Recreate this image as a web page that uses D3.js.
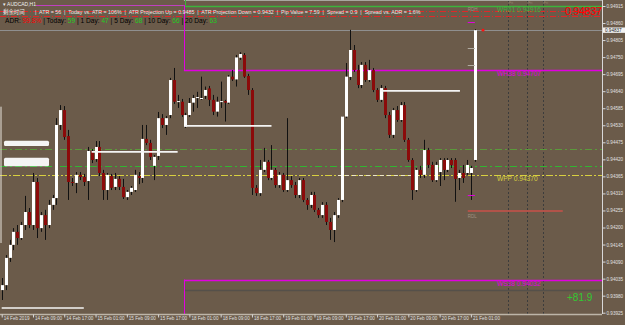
<!DOCTYPE html>
<html>
<head>
<meta charset="utf-8">
<script src="https://cdn.jsdelivr.net/npm/d3@7"></script>
<style>
  body { margin: 0; background: #6b5b4a; overflow: hidden; }
  svg { display: block; font-family: "Liberation Sans", Arial, sans-serif; }
</style>
</head>
<body>
<svg id="chart" width="625" height="325"></svg>
<script>
// AUDCAD H1 candles, 14 Feb 01:00 -> 21 Feb 02:00
var opens = [0.93998,0.94014,0.94102,0.94144,0.94186,0.94166,0.94208,0.94250,0.94208,0.94347,0.94198,0.94240,0.94208,0.94273,0.94295,0.94531,0.94579,0.94495,0.94347,0.94344,
  0.94370,0.94363,0.94350,0.94447,0.94421,0.94460,0.94376,0.94321,0.94366,0.94331,0.94357,0.94331,0.94298,0.94315,0.94321,0.94366,0.94360,0.94486,0.94473,0.94399,
  0.94431,0.94553,0.94531,0.94563,0.94676,0.94606,0.94606,0.94525,0.94563,0.94603,0.94618,0.94615,0.94625,0.94649,0.94612,0.94574,0.94606,0.94608,0.94603,0.94687,
  0.94678,0.94748,0.94757,0.94689,0.94644,0.94328,0.94311,0.94386,0.94412,0.94360,0.94386,0.94337,0.94370,0.94321,0.94353,0.94337,0.94305,0.94353,0.94289,0.94273,
  0.94305,0.94257,0.94240,0.94273,0.94218,0.94192,0.94240,0.94289,0.94558,0.94686,0.94773,0.94708,0.94660,0.94725,0.94676,0.94708,0.94644,0.94612,0.94650,0.94563,
  0.94499,0.94579,0.94547,0.94595,0.94483,0.94418,0.94321,0.94386,0.94370,0.94450,0.94402,0.94353,0.94379,0.94418,0.94386,0.94418,0.94418,0.94360,0.94376,0.94376,
  0.94376,0.94418];
var highs = [0.94037,0.94111,0.94160,0.94198,0.94208,0.94218,0.94302,0.94263,0.94376,0.94360,0.94250,0.94257,0.94289,0.94305,0.94553,0.94595,0.94592,0.94515,0.94360,0.94379,
  0.94379,0.94373,0.94460,0.94453,0.94479,0.94479,0.94386,0.94376,0.94373,0.94376,0.94366,0.94357,0.94321,0.94334,0.94386,0.94379,0.94531,0.94531,0.94483,0.94434,
  0.94573,0.94566,0.94560,0.94683,0.94715,0.94628,0.94615,0.94570,0.94618,0.94628,0.94638,0.94687,0.94655,0.94657,0.94628,0.94622,0.94671,0.94612,0.94692,0.94708,
  0.94757,0.94766,0.94763,0.94696,0.94650,0.94337,0.94418,0.94457,0.94418,0.94466,0.94392,0.94379,0.94376,0.94553,0.94366,0.94347,0.94360,0.94360,0.94295,0.94315,
  0.94315,0.94263,0.94282,0.94282,0.94231,0.94250,0.94295,0.94558,0.94731,0.94838,0.94789,0.94725,0.94734,0.94734,0.94741,0.94715,0.94650,0.94660,0.94657,0.94573,
  0.94586,0.94592,0.94605,0.94605,0.94489,0.94424,0.94392,0.94399,0.94483,0.94457,0.94412,0.94412,0.94424,0.94424,0.94424,0.94424,0.94424,0.94386,0.94402,0.94418,
  0.94399,0.94840];
var lows = [0.93966,0.93998,0.94089,0.94127,0.94144,0.94160,0.94192,0.94198,0.94192,0.94166,0.94186,0.94160,0.94198,0.94257,0.94273,0.94515,0.94483,0.94289,0.94334,0.94311,
  0.94353,0.94334,0.94289,0.94408,0.94412,0.94366,0.94289,0.94289,0.94321,0.94321,0.94321,0.94292,0.94289,0.94305,0.94315,0.94340,0.94344,0.94466,0.94418,0.94353,
  0.94418,0.94521,0.94499,0.94553,0.94599,0.94586,0.94557,0.94521,0.94557,0.94574,0.94586,0.94612,0.94615,0.94592,0.94563,0.94558,0.94586,0.94542,0.94599,0.94673,
  0.94655,0.94741,0.94683,0.94628,0.94305,0.94302,0.94302,0.94379,0.94353,0.94353,0.94328,0.94328,0.94315,0.94315,0.94328,0.94295,0.94295,0.94282,0.94257,0.94263,
  0.94250,0.94231,0.94231,0.94208,0.94160,0.94153,0.94231,0.94282,0.94553,0.94676,0.94702,0.94650,0.94650,0.94670,0.94670,0.94637,0.94605,0.94605,0.94553,0.94489,
  0.94489,0.94541,0.94541,0.94476,0.94412,0.94289,0.94315,0.94360,0.94360,0.94392,0.94347,0.94347,0.94334,0.94353,0.94379,0.94392,0.94283,0.94321,0.94344,0.94370,
  0.94289,0.94412];
var closes = [0.94014,0.94102,0.94144,0.94186,0.94166,0.94208,0.94250,0.94208,0.94347,0.94198,0.94240,0.94208,0.94273,0.94295,0.94531,0.94579,0.94492,0.94347,0.94344,0.94370,
  0.94363,0.94347,0.94447,0.94418,0.94460,0.94376,0.94321,0.94370,0.94328,0.94357,0.94331,0.94298,0.94315,0.94328,0.94370,0.94360,0.94486,0.94473,0.94428,0.94428,
  0.94553,0.94531,0.94553,0.94676,0.94606,0.94608,0.94563,0.94563,0.94602,0.94618,0.94621,0.94618,0.94644,0.94612,0.94574,0.94606,0.94608,0.94603,0.94687,0.94678,
  0.94749,0.94760,0.94687,0.94644,0.94328,0.94311,0.94386,0.94412,0.94360,0.94386,0.94337,0.94370,0.94321,0.94353,0.94337,0.94305,0.94353,0.94289,0.94273,0.94305,
  0.94257,0.94240,0.94273,0.94218,0.94192,0.94240,0.94289,0.94558,0.94687,0.94773,0.94708,0.94660,0.94725,0.94676,0.94708,0.94644,0.94612,0.94650,0.94563,0.94499,
  0.94579,0.94547,0.94595,0.94483,0.94418,0.94321,0.94386,0.94370,0.94450,0.94402,0.94353,0.94402,0.94418,0.94386,0.94418,0.94402,0.94357,0.94376,0.94360,0.94402,
  0.94392,0.94837];

var priceTicks = [0.94915,0.94860,0.94805,0.94750,0.94695,0.94640,0.94585,0.94530,0.94475,0.94420,0.94365,0.94310,0.94255,0.94200,0.94145,0.94090,0.94035,0.93980,0.93925];
var timeTickBars = [0,8,16,24,32,40,48,56,64,72,80,88,96,104,112,120];
var timeLabels = ["14 Feb 2019","14 Feb 09:00","14 Feb 17:00","15 Feb 01:00","15 Feb 09:00","15 Feb 17:00","18 Feb 01:00","18 Feb 09:00",
  "18 Feb 17:00","19 Feb 01:00","19 Feb 09:00","19 Feb 17:00","20 Feb 01:00","20 Feb 09:00","20 Feb 17:00","21 Feb 01:00"];

var bid = 0.94837;
var weekBar = 46.6;            // week separator (15 Feb -> 18 Feb)
var prevWeekHigh = 0.94918;
var levelNames = ["WR61","WH38","WPP","WS38"];
var levelValues = [0.94916,0.94707,0.94370,0.94032];
var levelColors = ["#3cb43c","#e100e1","#d8d040","#e100e1"];
var atrLines = [0.94899,0.94883];          // red dash-dot
var greenLines = [0.94453,0.94398];        // green dash-dot
var rdh = 0.94935, rdl = 0.94253, rdlBars = [119.2,143.5];
var lowLine = 0.93998;
var eventBars = [129.5,134.4,138.4];
// white session segments [fromBar, toBar, price]
var segFrom = [0,23,47,96.8], segTo = [21,45,69,117.2], segPrice = [0.93940,0.94444,0.94528,0.94641];
// smeared white labels at the left edge [top price, bottom price]
var smearTop = [0.94480,0.94425], smearBottom = [0.94463,0.94398];
// small marks on the last bars
var markMagenta = [0.94863,0.94305], markGray = [0.94779,0.94725];

var W = 625, H = 325, right = 602, bottom = 314;
var svg = d3.select("#chart");
var x = d3.scaleLinear().domain([0,121]).range([1.7,474.8]);
var y = d3.scaleLinear().domain([0.93925,0.94915]).range([312.7,6]);
var py = v => Math.round(y(v))+0.5;

svg.append("rect").attr("width",W).attr("height",H).attr("fill","#6b5b4a");

// event dotted verticals
svg.selectAll(".ev").data(eventBars).enter().append("line")
  .attr("x1",d=>Math.round(x(d))+0.5).attr("x2",d=>Math.round(x(d))+0.5)
  .attr("y1",0).attr("y2",bottom).attr("stroke","#3c3c3c").attr("stroke-dasharray","2,2");
svg.selectAll(".evt").data(eventBars).enter().append("text")
  .attr("x",d=>x(d)+1).attr("y",4).attr("font-size",3.5).attr("fill","#9a8a70").text("Fri");

// RDH (top gray line)
svg.append("line").attr("x1",x(weekBar)).attr("x2",right).attr("y1",py(rdh)).attr("y2",py(rdh)).attr("stroke","#a8a8a0");

// red dash-dot lines
svg.selectAll(".atr").data(atrLines).enter().append("line")
  .attr("x1",0).attr("x2",right).attr("y1",py).attr("y2",py)
  .attr("stroke","#e02828").attr("stroke-dasharray","6,2,1,2");
// green dash-dot lines
svg.selectAll(".gl").data(greenLines).enter().append("line")
  .attr("x1",0).attr("x2",right).attr("y1",py).attr("y2",py)
  .attr("stroke",(d,i)=>i==0?"#5b9a3c":"#32b432").attr("stroke-dasharray","7,3,2,3");

// bid line
svg.append("line").attr("x1",0).attr("x2",right).attr("y1",py(bid)).attr("y2",py(bid)).attr("stroke","#8f8f8f");
// low gray line
svg.append("line").attr("x1",x(weekBar)).attr("x2",right).attr("y1",py(lowLine)).attr("y2",py(lowLine))
  .attr("stroke","#55504a").attr("stroke-width",1.5);

// previous week high (magenta) on the left part
svg.append("line").attr("x1",36).attr("x2",x(weekBar)).attr("y1",py(prevWeekHigh)).attr("y2",py(prevWeekHigh))
  .attr("stroke","#c040c0");

// weekly levels
levelValues.forEach(function(v,i){
  var yy = py(v);
  var isPP = levelNames[i]=="WPP";
  svg.append("line").attr("x1",isPP?0:x(weekBar)).attr("x2",right).attr("y1",yy).attr("y2",yy)
    .attr("stroke",levelColors[i]).attr("stroke-width",isPP?1:1.3)
    .attr("stroke-dasharray",isPP?"7,2,2,2":null);
  svg.append("text").attr("x",497).attr("y",yy+5).attr("font-size",6.6).attr("fill",levelColors[i])
    .text(levelNames[i]+"  "+d3.format(".5f")(v));
});
// lighter dashes on the pivot line after the week's low
svg.append("line").attr("x1",x(86)).attr("x2",x(107)).attr("y1",py(levelValues[2])).attr("y2",py(levelValues[2]))
  .attr("stroke","#ece6c8").attr("stroke-dasharray","4,3");

// week separator verticals
var xs = Math.round(x(weekBar))+0.5;
svg.append("line").attr("x1",xs).attr("x2",xs).attr("y1",y(prevWeekHigh)).attr("y2",y(levelValues[1])).attr("stroke","#e100e1");
svg.append("line").attr("x1",xs).attr("x2",xs).attr("y1",y(levelValues[3])).attr("y2",bottom).attr("stroke","#e100e1");
svg.append("line").attr("x1",xs+1).attr("x2",xs+1).attr("y1",0).attr("y2",y(levelValues[0])).attr("stroke","#3cb43c");

// RDL
svg.append("line").attr("x1",x(rdlBars[0])).attr("x2",x(rdlBars[1])).attr("y1",y(rdl)).attr("y2",y(rdl))
  .attr("stroke","#c8504a").attr("stroke-width",1.5);
svg.append("text").attr("x",x(rdlBars[0])).attr("y",y(rdl)+7).attr("font-size",4.5).attr("fill","#a09080").text("RDL");
svg.append("text").attr("x",x(rdlBars[0])).attr("y",11).attr("font-size",4.5).attr("fill","#a09080").text("RDH");

// left edge white line
svg.append("line").attr("x1",1).attr("x2",1).attr("y1",y(0.94590)).attr("y2",y(0.94150)).attr("stroke","#e8e4dc");

// candles
var idx = d3.range(opens.length);
var cg = svg.append("g");
cg.selectAll(".wick").data(idx).enter().append("line")
  .attr("x1",i=>Math.round(x(i))+0.5).attr("x2",i=>Math.round(x(i))+0.5)
  .attr("y1",i=>y(highs[i])).attr("y2",i=>y(lows[i])).attr("stroke","#111");
cg.selectAll(".body").data(idx).enter().append("rect")
  .attr("x",i=>Math.round(x(i))-1).attr("width",3)
  .attr("y",i=>y(Math.max(opens[i],closes[i])))
  .attr("height",i=>Math.max(1,Math.abs(y(opens[i])-y(closes[i]))))
  .attr("fill",i=>closes[i]>=opens[i]?"#ffffff":"#8b0a0a");

// white session segments
svg.selectAll(".seg").data(segPrice).enter().append("line")
  .attr("x1",(d,i)=>x(segFrom[i])).attr("x2",(d,i)=>x(segTo[i]))
  .attr("y1",d=>y(d)).attr("y2",d=>y(d)).attr("stroke","#f4f4f4").attr("stroke-width",1.6);

// smeared white labels at left edge
svg.selectAll(".smear").data(smearTop).enter().append("rect")
  .attr("x",4).attr("width",45).attr("rx",1.5)
  .attr("y",d=>y(d)).attr("height",(d,i)=>y(smearBottom[i])-y(d))
  .attr("fill","#f4f4f4");

// marks on the last bars
svg.selectAll(".mm").data(markMagenta).enter().append("line")
  .attr("x1",x(119.2)).attr("x2",x(121)).attr("y1",py).attr("y2",py).attr("stroke","#e100e1");
svg.selectAll(".mg").data(markGray).enter().append("line")
  .attr("x1",x(119.2)).attr("x2",x(121)).attr("y1",py).attr("y2",py).attr("stroke","#b0aaa0");
svg.append("circle").attr("cx",483).attr("cy",y(bid)).attr("r",1.4).attr("fill","#ff1010");

// axes
svg.append("line").attr("x1",right+0.5).attr("x2",right+0.5).attr("y1",0).attr("y2",bottom).attr("stroke","#d8d8d8");
svg.append("line").attr("x1",0).attr("x2",right).attr("y1",bottom+0.5).attr("y2",bottom+0.5).attr("stroke","#bdb5a8").attr("stroke-width",1.5);
var ya = svg.append("g").attr("transform","translate("+(right+0.5)+",0)")
  .call(d3.axisRight(y).tickValues(priceTicks).tickSize(3).tickPadding(1).tickFormat(d3.format(".5f")));
ya.select(".domain").remove();
ya.selectAll("line").attr("stroke","#d8d8d8");
ya.selectAll("text").attr("fill","#e0e0e0").attr("font-size",4.6).attr("font-family","Liberation Sans");
var xa = svg.append("g").attr("transform","translate(0,"+(bottom+0.5)+")")
  .call(d3.axisBottom(x).tickValues(timeTickBars).tickSize(3).tickFormat((d,i)=>timeLabels[i]));
xa.select(".domain").remove();
xa.selectAll("line").attr("stroke","#d8d8d8");
xa.selectAll("text").attr("fill","#e0e0e0").attr("font-size",4.6).attr("font-family","Liberation Sans")
  .attr("text-anchor","start").attr("dx",1.5).attr("dy",-0.5);

// bid price box
svg.append("rect").attr("x",603).attr("y",y(bid)-2.7).attr("width",22).attr("height",5.4).attr("fill","#f2f2f2");
svg.append("text").attr("x",605).attr("y",y(bid)+1.7).attr("font-size",4.6).attr("fill","#222").text(d3.format(".5f")(bid));

// big labels
svg.append("text").attr("x",565).attr("y",14.5).attr("font-size",11).attr("fill","#ff0000")
  .attr("textLength",37).text(d3.format(".5f")(bid));
svg.append("text").attr("x",567).attr("y",301).attr("font-size",10).attr("fill","#32c832").text("+81.9");

// header
svg.append("text").attr("x",3).attr("y",6).attr("font-size",5).attr("fill","#f0f0f0").text("\u25BE AUDCAD,H1");
var hdr = ["ATR = 56","Today vs. ATR = 106%","ATR Projection Up = 0.9485","ATR Projection Down = 0.9432","Pip Value = 7.59","Spread = 0.9","Spread vs. ADR = 1.6%"];
svg.append("text").attr("x",3).attr("y",14).attr("font-size",5.4).attr("fill","#f0f0f0")
  .attr("font-family","Noto Sans CJK SC").text("\u5269\u4F59\u65F6\u95F4");
svg.append("text").attr("x",35).attr("y",14).attr("font-size",5.3).attr("fill","#e8e8e8")
  .attr("xml:space","preserve").text("|  " + hdr.join("  |  "));
var adr = svg.append("text").attr("x",5).attr("y",23).attr("font-size",6.6).attr("fill","#000").attr("xml:space","preserve");
var adrParts = [["ADR: ","#000"],["99.8%","#ff0000"],[" | Today: ","#000"],["59","#22cc22"],[" | 1 Day: ","#000"],["47","#22cc22"],
  [" | 5 Day: ","#000"],["68","#22cc22"],[" | 10 Day: ","#000"],["66","#22cc22"],[" | 20 Day: ","#000"],["63","#22cc22"]];
adrParts.forEach(p=>adr.append("tspan").attr("fill",p[1]).text(p[0]));
</script>
</body>
</html>
